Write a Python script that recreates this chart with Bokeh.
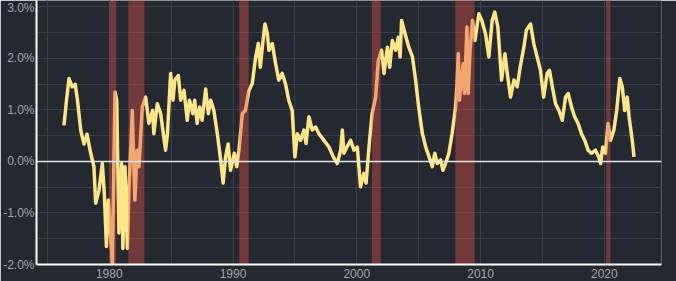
from bokeh.plotting import figure
from bokeh.models import FixedTicker, PrintfTickFormatter, Span
from bokeh.embed import file_html
from bokeh.resources import INLINE

# 10Y-2Y Treasury spread (percentage points)
years = [1976.34, 1976.55, 1976.75, 1977.0, 1977.25, 1977.43, 1977.7, 1977.96, 1978.2,
         1978.5, 1978.76, 1978.9, 1979.17, 1979.44, 1979.6, 1979.77, 1979.93, 1980.1,
         1980.25, 1980.46, 1980.6, 1980.78, 1981.0, 1981.1, 1981.27, 1981.46, 1981.6,
         1981.86, 1982.07, 1982.25, 1982.4, 1982.67, 1982.94, 1983.2, 1983.5, 1983.6,
         1983.88, 1984.15, 1984.55, 1984.7, 1984.96, 1985.15, 1985.3, 1985.58, 1985.77,
         1986.04, 1986.3, 1986.48, 1986.75, 1986.9, 1987.1, 1987.3, 1987.5, 1987.79,
         1988.0, 1988.2, 1988.45, 1988.73, 1989.0, 1989.2, 1989.4, 1989.6, 1989.8,
         1990.1, 1990.3, 1990.48, 1990.75, 1991.0, 1991.28, 1991.55, 1991.83, 1992.04,
         1992.2, 1992.4, 1992.58, 1992.77, 1992.9, 1993.17, 1993.44, 1993.7, 1993.97,
         1994.24, 1994.5, 1994.78, 1995.0, 1995.2, 1995.46, 1995.73, 1995.9, 1996.13,
         1996.4, 1996.67, 1996.94, 1997.35, 1997.75, 1998.1, 1998.42, 1998.7, 1998.83,
         1998.96, 1999.2, 1999.5, 1999.77, 2000.04, 2000.3, 2000.57, 2000.75, 2001.03,
         2001.24, 2001.52, 2001.74, 2002.0, 2002.2, 2002.47, 2002.66, 2002.87, 2003.14,
         2003.35, 2003.5, 2003.62, 2003.9, 2004.2, 2004.5, 2004.75, 2005.0, 2005.3,
         2005.57, 2005.84, 2006.1, 2006.3, 2006.5, 2006.77, 2006.96, 2007.17, 2007.44,
         2007.7, 2007.98, 2008.1, 2008.2, 2008.3, 2008.45, 2008.6, 2008.7, 2008.9,
         2009.0, 2009.15, 2009.35, 2009.55, 2009.86, 2010.1, 2010.4, 2010.67, 2010.94,
         2011.15, 2011.4, 2011.7, 2011.97, 2012.16, 2012.42, 2012.7, 2012.96, 2013.2,
         2013.5, 2013.7, 2014.04, 2014.3, 2014.57, 2014.84, 2015.1, 2015.38, 2015.57,
         2015.8, 2016.06, 2016.33, 2016.6, 2016.87, 2017.08, 2017.35, 2017.6, 2017.88,
         2018.15, 2018.42, 2018.69, 2018.96, 2019.28, 2019.55, 2019.7, 2019.87, 2020.1,
         2020.3, 2020.5, 2020.77, 2021.0, 2021.25, 2021.45, 2021.65, 2021.85, 2022.0,
         2022.26, 2022.4]
spread = [0.70, 1.20, 1.61, 1.45, 1.50, 1.19, 0.60, 0.34, 0.53,
          0.16, -0.10, -0.81, -0.56, -0.04, -0.62, -1.65, -0.75, -1.39,
          -1.98, 1.35, 1.19, -1.39, -0.04, -1.69, -0.10, -1.69, -0.49,
          0.99, -0.75, 0.22, -0.10, 1.06, 1.25, 0.74, 0.99, 0.54,
          1.12, 0.93, 0.22, 0.54, 1.71, 1.19, 1.58, 1.67, 1.19,
          1.38, 0.80, 1.19, 0.93, 1.19, 0.74, 1.06, 0.80, 1.41,
          0.93, 1.19, 0.99, 0.54, 0.03, -0.42, 0.09, 0.34, -0.17,
          0.16, -0.10, 0.22, 0.93, 0.99, 1.38, 1.51, 2.03, 2.29,
          1.83, 2.29, 2.67, 2.48, 2.16, 2.29, 1.90, 1.58, 1.71,
          1.51, 1.19, 0.99, 0.09, 0.54, 0.41, 0.61, 0.35, 0.87,
          0.61, 0.67, 0.54, 0.41, 0.28, 0.09, -0.04, 0.22, 0.61,
          0.16, 0.28, 0.41, 0.22, 0.28, -0.49, -0.23, -0.42, 0.41,
          0.93, 1.25, 1.96, 2.16, 1.71, 2.22, 1.83, 2.35, 2.16,
          2.41, 2.03, 2.74, 2.48, 2.22, 2.03, 1.58, 1.06, 0.54,
          0.28, 0.09, -0.10, 0.16, -0.04, 0.03, -0.17, -0.04, 0.16,
          0.54, 1.06, 1.51, 2.09, 1.19, 1.60, 1.90, 1.32, 2.61,
          1.32, 2.16, 2.74, 2.35, 2.87, 2.74, 2.48, 2.03, 2.74,
          2.90, 2.61, 1.58, 2.09, 1.71, 1.25, 1.58, 1.45, 1.83,
          2.22, 2.55, 2.67, 2.29, 2.03, 1.77, 1.25, 1.71, 1.77,
          1.45, 1.12, 0.99, 0.80, 1.25, 1.32, 1.06, 0.87, 0.74,
          0.54, 0.41, 0.22, 0.16, 0.22, 0.09, -0.04, 0.28, 0.16,
          0.74, 0.41, 0.61, 0.99, 1.61, 1.45, 0.99, 1.25, 0.87,
          0.41, 0.09]

# recession periods (decimal years)
rec_start = [1980.0, 1981.54, 1990.5, 2001.22, 2007.96, 2020.15]
rec_end = [1980.56, 1982.84, 1991.26, 2001.93, 2009.52, 2020.5]

x_ticks = [1980, 1990, 2000, 2010, 2020]
x_minor = [1975, 1980, 1985, 1990, 1995, 2000, 2005, 2010, 2015, 2020]
y_ticks = [-2, -1, 0, 1, 2, 3]
y_minor = [-1.5, -0.5, 0.5, 1.5, 2.5]

BG = "#242830"
GRID = "#3a3e47"
LABEL = "#a3a7ae"
YELLOW = "#fde68a"

p = figure(width=676, height=281, output_backend="svg", toolbar_location=None,
           x_range=(1974.12, 2024.62), y_range=(-2.0, 3.126),
           background_fill_color=BG, border_fill_color=BG,
           min_border_left=0, min_border_right=15, min_border_top=0,
           min_border_bottom=17)
p.outline_line_color = None

p.line(years, spread, line_color=YELLOW, line_width=3.5, line_join="round")
p.quad(left=rec_start, right=rec_end, bottom=-2.0, top=3.126,
       fill_color="#e0524a", fill_alpha=0.42, line_color=None)

p.add_layout(Span(location=0, dimension="width", line_color="#e6e6e6",
                  line_width=1.5))

p.xaxis.ticker = FixedTicker(ticks=x_ticks, minor_ticks=x_minor)
p.yaxis.ticker = FixedTicker(ticks=y_ticks, minor_ticks=y_minor)
p.xaxis.formatter = PrintfTickFormatter(format="%d")
p.yaxis.formatter = PrintfTickFormatter(format="%.1f%%")

for ax in (p.xaxis[0], p.yaxis[0]):
    ax.axis_line_color = "white"
    ax.axis_line_width = 2
    ax.major_tick_line_color = None
    ax.minor_tick_line_color = None
    ax.major_tick_out = 0
    ax.major_tick_in = 0
    ax.minor_tick_out = 0
    ax.minor_tick_in = 0
    ax.major_label_text_color = LABEL
    ax.major_label_text_font = "Liberation Sans"
    ax.major_label_text_font_size = "12px"
p.yaxis.major_label_standoff = 2
p.xaxis.major_label_standoff = 4

for g in (p.xgrid[0], p.ygrid[0]):
    g.grid_line_color = GRID
    g.grid_line_width = 1
    g.minor_grid_line_color = GRID
    g.minor_grid_line_width = 1

open("out.html", "w").write(file_html(p, INLINE))
